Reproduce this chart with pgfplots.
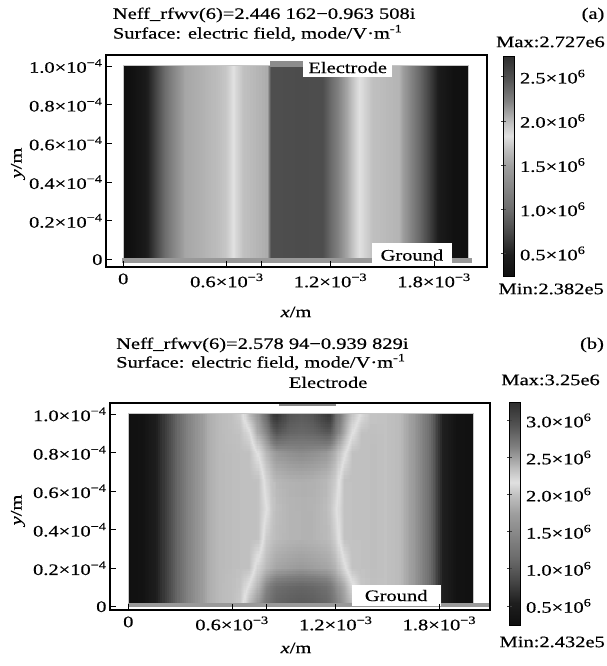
\documentclass[border=0pt]{standalone}
\usepackage{fontspec}
\setmainfont{Liberation Serif}[FakeStretch=1.28, FakeBold=0.5]
\usepackage{pgfplots}
\usepgfplotslibrary{patchplots}
\pgfplotsset{compat=1.18}

% grey version of the COMSOL rainbow: dark - light - dark
\pgfplotsset{
  colormap={cgray}{gray(0pt)=(0.06); gray(10pt)=(0.12); gray(20pt)=(0.28);
    gray(30pt)=(0.42); gray(40pt)=(0.52); gray(50pt)=(0.62); gray(58pt)=(0.75);
    gray(64pt)=(0.88); gray(70pt)=(0.75); gray(80pt)=(0.5); gray(90pt)=(0.32);
    gray(100pt)=(0.18)},
  field/.style={
    scale only axis, axis on top, clip=false,
    colormap name=cgray,
    font=\fontsize{16}{18.3}\selectfont,
    xtick={0,0.6,0.8,1.2,1.8},
    xticklabels={0,0.6×10\textsuperscript{−3},,1.2×10\textsuperscript{−3},1.8×10\textsuperscript{−3}},
    ytick={0,0.2,0.4,0.6,0.8,1.0},
    yticklabels={0,0.2×10\textsuperscript{−4},0.4×10\textsuperscript{−4},0.6×10\textsuperscript{−4},0.8×10\textsuperscript{−4},1.0×10\textsuperscript{−4}},
    xticklabel style={yshift=-3pt},
    tick pos=left, tick align=inside, major tick length=6pt,
    axis line style={line width=1.3pt},
    every tick/.style={black, line width=0.9pt},
  },
  cbar/.style={
    colorbar style={
      scale only axis, width=10.5pt,
      font=\fontsize{16}{18.3}\selectfont,
      ytick pos=left, yticklabel pos=right,
      tick align=center, major tick length=5pt,
      every tick/.style={black!75, line width=0.9pt},
      axis line style={line width=0.6pt},
      #1}},
}
\tikzset{lbl/.style={fill=white, inner sep=0pt, font=\fontsize{16}{18.3}\selectfont},
  txt/.style={inner sep=0pt}}

\begin{document}
\begin{tikzpicture}[font=\fontsize{16}{18.3}\selectfont]
\path[use as bounding box] (0pt,0pt) rectangle (606pt,666pt);

% ---------------- (a) ----------------
\node[txt, anchor=west] at (112.7pt,651pt) {Neff\_rfwv(6)=2.446 162−0.963 508i};
\node[txt, anchor=west] at (112.7pt,633pt) {Surface: electric field, mode/V·m\textsuperscript{-1}};
\node[txt] at (593pt,651pt) {(a)};
\node[rotate=90] at (18pt,503pt) {\textit{y}/m};
\node at (296pt,354pt) {\textit{x}/m};
\node[txt, anchor=east] at (605pt,624pt) {Max:2.727e6};
\node[txt, anchor=east] at (604pt,377pt) {Min:2.382e5};

\begin{axis}[field,
    at={(106pt,399pt)}, anchor=south west,
    width=381pt, height=212pt,
    xmin=-0.1, xmax=2.107, ymin=-0.038, ymax=1.057,
    point meta min=0.2382, point meta max=2.727,
    colorbar, cbar={height=220pt, at={(parent axis.north east)}, anchor=north west,
      xshift=8pt, yshift=-1.7pt,
      ytick={0.5,1,1.5,2,2.5},
      yticklabels={0.5×10\textsuperscript{6},1.0×10\textsuperscript{6},1.5×10\textsuperscript{6},2.0×10\textsuperscript{6},2.5×10\textsuperscript{6}}},
  ]
  % x in 1e-3 m, y in 1e-4 m, field in 1e6 V/m
  \addplot[surf, shader=interp, patch type=bilinear, mesh/cols=24, point meta=explicit]
    table[meta=v] {
x y v
0 0 0.24
0.05 0 0.26
0.13 0 0.41
0.20 0 0.76
0.28 0 1.18
0.36 0 1.53
0.50 0 1.63
0.60 0 1.72
0.64 0 1.83
0.70 0 1.98
0.84 0 2.06
0.86 0 2.50
1.00 0 2.52
1.16 0 2.50
1.22 0 2.30
1.30 0 2.08
1.37 0 1.83
1.45 0 1.68
1.60 0 1.61
1.70 0 1.06
1.78 0 0.69
1.84 0 0.41
1.92 0 0.26
2.00 0 0.24

0 1 0.24
0.05 1 0.26
0.13 1 0.41
0.20 1 0.76
0.28 1 1.18
0.36 1 1.53
0.50 1 1.63
0.60 1 1.72
0.64 1 1.83
0.70 1 1.98
0.84 1 2.06
0.86 1 2.50
1.00 1 2.52
1.16 1 2.50
1.22 1 2.30
1.30 1 2.08
1.37 1 1.83
1.45 1 1.68
1.60 1 1.61
1.70 1 1.06
1.78 1 0.69
1.84 1 0.41
1.92 1 0.26
2.00 1 0.24
};
  \draw[gray!45, line width=1pt] (axis cs:0,0) rectangle (axis cs:2,1.005);
  \fill[black!45] (axis cs:0.85,0.996) rectangle (axis cs:1.2,1.025);
  \fill[black!40] (axis cs:-0.01,-0.016) rectangle (axis cs:2.02,0.006);
  \node[lbl, minimum width=89pt, minimum height=19pt] at (axis cs:1.300,0.992) {Electrode};
  \node[lbl, minimum width=80pt, minimum height=24pt] at (axis cs:1.672,0.0235) {Ground};
\end{axis}

% ---------------- (b) ----------------
\node[txt, anchor=west] at (116pt,321pt) {Neff\_rfwv(6)=2.578 94−0.939 829i};
\node[txt, anchor=west] at (116pt,304pt) {Surface: electric field, mode/V·m\textsuperscript{-1}};
\node[txt] at (592pt,321pt) {(b)};
\node[rotate=90] at (18pt,156pt) {\textit{y}/m};
\node at (296pt,18pt) {\textit{x}/m};
\node[txt, anchor=east] at (600pt,286pt) {Max:3.25e6};
\node[txt, anchor=east] at (605pt,24pt) {Min:2.432e5};

\begin{axis}[field,
    at={(110pt,56pt)}, anchor=south west,
    width=380pt, height=207pt,
    xmin=-0.106, xmax=2.093, ymin=-0.017, ymax=1.059,
    point meta min=0.2432, point meta max=3.25,
    colorbar, cbar={height=223pt, at={(parent axis.north east)}, anchor=north west,
      xshift=11pt, yshift=1pt,
      ytick={0.5,1,1.5,2,2.5,3},
      yticklabels={0.5×10\textsuperscript{6},1.0×10\textsuperscript{6},1.5×10\textsuperscript{6},2.0×10\textsuperscript{6},2.5×10\textsuperscript{6},3.0×10\textsuperscript{6}}},
  ]
  \addplot[surf, shader=interp, patch type=bilinear, mesh/cols=31, point meta=explicit]
    table[meta=v] {
x y v
0 0 0.26
0.08 0 0.30
0.15 0 0.50
0.25 0 0.95
0.35 0 1.45
0.46 0 1.85
0.53 0 1.95
0.60 0 1.99
0.65 0 2.05
0.70 0 2.40
0.75 0 2.55
0.80 0 2.72
0.84 0 2.80
0.86 0 2.84
0.93 0 2.88
1.00 0 2.90
1.07 0 2.88
1.15 0 2.82
1.17 0 2.78
1.20 0 2.68
1.25 0 2.52
1.30 0 2.38
1.35 0 2.03
1.40 0 1.99
1.48 0 2.00
1.57 0 1.95
1.65 0 1.70
1.73 0 1.25
1.82 0 0.55
1.90 0 0.30
2.00 0 0.26

0 0.1 0.26
0.08 0.1 0.30
0.15 0.1 0.50
0.25 0.1 0.95
0.35 0.1 1.45
0.46 0.1 1.85
0.53 0.1 1.95
0.60 0.1 1.99
0.65 0.1 2.02
0.70 0.1 2.20
0.75 0.1 2.40
0.80 0.1 2.62
0.84 0.1 2.72
0.86 0.1 2.76
0.93 0.1 2.80
1.00 0.1 2.82
1.07 0.1 2.80
1.15 0.1 2.74
1.17 0.1 2.70
1.20 0.1 2.60
1.25 0.1 2.45
1.30 0.1 2.20
1.35 0.1 2.02
1.40 0.1 1.99
1.48 0.1 2.00
1.57 0.1 1.95
1.65 0.1 1.70
1.73 0.1 1.25
1.82 0.1 0.55
1.90 0.1 0.30
2.00 0.1 0.26

0 0.2 0.26
0.08 0.2 0.30
0.15 0.2 0.50
0.25 0.2 0.95
0.35 0.2 1.45
0.46 0.2 1.85
0.53 0.2 1.95
0.60 0.2 1.98
0.65 0.2 1.99
0.70 0.2 2.00
0.75 0.2 2.24
0.80 0.2 2.38
0.84 0.2 2.44
0.86 0.2 2.47
0.93 0.2 2.50
1.00 0.2 2.52
1.07 0.2 2.50
1.15 0.2 2.47
1.17 0.2 2.45
1.20 0.2 2.40
1.25 0.2 2.20
1.30 0.2 2.00
1.35 0.2 1.99
1.40 0.2 1.98
1.48 0.2 2.00
1.57 0.2 1.95
1.65 0.2 1.70
1.73 0.2 1.25
1.82 0.2 0.55
1.90 0.2 0.30
2.00 0.2 0.26

0 0.35 0.26
0.08 0.35 0.30
0.15 0.35 0.50
0.25 0.35 0.95
0.35 0.35 1.45
0.46 0.35 1.85
0.53 0.35 1.95
0.60 0.35 1.98
0.65 0.35 1.99
0.70 0.35 1.99
0.75 0.35 2.00
0.80 0.35 2.28
0.84 0.35 2.35
0.86 0.35 2.37
0.93 0.35 2.40
1.00 0.35 2.41
1.07 0.35 2.40
1.15 0.35 2.37
1.17 0.35 2.35
1.20 0.35 2.26
1.25 0.35 2.00
1.30 0.35 1.99
1.35 0.35 1.99
1.40 0.35 1.98
1.48 0.35 2.00
1.57 0.35 1.95
1.65 0.35 1.70
1.73 0.35 1.25
1.82 0.35 0.55
1.90 0.35 0.30
2.00 0.35 0.26

0 0.5 0.26
0.08 0.5 0.30
0.15 0.5 0.50
0.25 0.5 0.95
0.35 0.5 1.45
0.46 0.5 1.85
0.53 0.5 1.95
0.60 0.5 1.98
0.65 0.5 1.99
0.70 0.5 1.99
0.75 0.5 2.00
0.80 0.5 2.16
0.84 0.5 2.33
0.86 0.5 2.36
0.93 0.5 2.40
1.00 0.5 2.41
1.07 0.5 2.40
1.15 0.5 2.36
1.17 0.5 2.32
1.20 0.5 2.20
1.25 0.5 2.00
1.30 0.5 1.99
1.35 0.5 1.99
1.40 0.5 1.98
1.48 0.5 2.00
1.57 0.5 1.95
1.65 0.5 1.70
1.73 0.5 1.25
1.82 0.5 0.55
1.90 0.5 0.30
2.00 0.5 0.26

0 0.65 0.26
0.08 0.65 0.30
0.15 0.65 0.50
0.25 0.65 0.95
0.35 0.65 1.45
0.46 0.65 1.85
0.53 0.65 1.95
0.60 0.65 1.98
0.65 0.65 1.99
0.70 0.65 1.99
0.75 0.65 2.00
0.80 0.65 2.24
0.84 0.65 2.36
0.86 0.65 2.39
0.93 0.65 2.42
1.00 0.65 2.43
1.07 0.65 2.42
1.15 0.65 2.38
1.17 0.65 2.35
1.20 0.65 2.28
1.25 0.65 2.00
1.30 0.65 1.99
1.35 0.65 1.99
1.40 0.65 1.98
1.48 0.65 2.00
1.57 0.65 1.95
1.65 0.65 1.70
1.73 0.65 1.25
1.82 0.65 0.55
1.90 0.65 0.30
2.00 0.65 0.26

0 0.8 0.26
0.08 0.8 0.30
0.15 0.8 0.50
0.25 0.8 0.95
0.35 0.8 1.45
0.46 0.8 1.85
0.53 0.8 1.95
0.60 0.8 1.98
0.65 0.8 1.99
0.70 0.8 2.00
0.75 0.8 2.19
0.80 0.8 2.40
0.84 0.8 2.50
0.86 0.8 2.54
0.93 0.8 2.58
1.00 0.8 2.60
1.07 0.8 2.58
1.15 0.8 2.54
1.17 0.8 2.50
1.20 0.8 2.42
1.25 0.8 2.21
1.30 0.8 2.00
1.35 0.8 1.99
1.40 0.8 1.98
1.48 0.8 2.00
1.57 0.8 1.95
1.65 0.8 1.70
1.73 0.8 1.25
1.82 0.8 0.55
1.90 0.8 0.30
2.00 0.8 0.26

0 0.9 0.26
0.08 0.9 0.30
0.15 0.9 0.50
0.25 0.9 0.95
0.35 0.9 1.45
0.46 0.9 1.85
0.53 0.9 1.95
0.60 0.9 1.99
0.65 0.9 2.01
0.70 0.9 2.14
0.75 0.9 2.45
0.80 0.9 2.62
0.84 0.9 2.85
0.86 0.9 2.92
0.93 0.9 2.82
1.00 0.9 2.80
1.07 0.9 2.82
1.15 0.9 2.90
1.17 0.9 2.88
1.20 0.9 2.70
1.25 0.9 2.45
1.30 0.9 2.17
1.35 0.9 2.00
1.40 0.9 1.99
1.48 0.9 2.00
1.57 0.9 1.95
1.65 0.9 1.70
1.73 0.9 1.25
1.82 0.9 0.55
1.90 0.9 0.30
2.00 0.9 0.26

0 1 0.26
0.08 1 0.30
0.15 1 0.50
0.25 1 0.95
0.35 1 1.45
0.46 1 1.85
0.53 1 1.95
0.60 1 2.00
0.65 1 2.07
0.70 1 2.40
0.75 1 2.55
0.80 1 2.80
0.84 1 3.18
0.86 1 3.22
0.93 1 2.95
1.00 1 2.90
1.07 1 2.95
1.15 1 3.20
1.17 1 3.18
1.20 1 2.82
1.25 1 2.55
1.30 1 2.32
1.35 1 2.15
1.40 1 2.02
1.48 1 2.00
1.57 1 1.95
1.65 1 1.70
1.73 1 1.25
1.82 1 0.55
1.90 1 0.30
2.00 1 0.26
};
  \draw[gray!45, line width=1pt] (axis cs:0,0) rectangle (axis cs:2,1.005);
  \fill[black!45] (axis cs:0.87,1.041) rectangle (axis cs:1.2,1.059);
  \fill[black!40] (axis cs:0,0) rectangle (axis cs:2.093,0.019);
  \node[lbl, minimum width=89pt, minimum height=21pt] at (axis cs:1.550,0.058) {Ground};
  \node[font=\fontsize{16}{18.3}\selectfont] at (axis cs:1.156,1.166) {Electrode};
\end{axis}
\end{tikzpicture}
\end{document}
